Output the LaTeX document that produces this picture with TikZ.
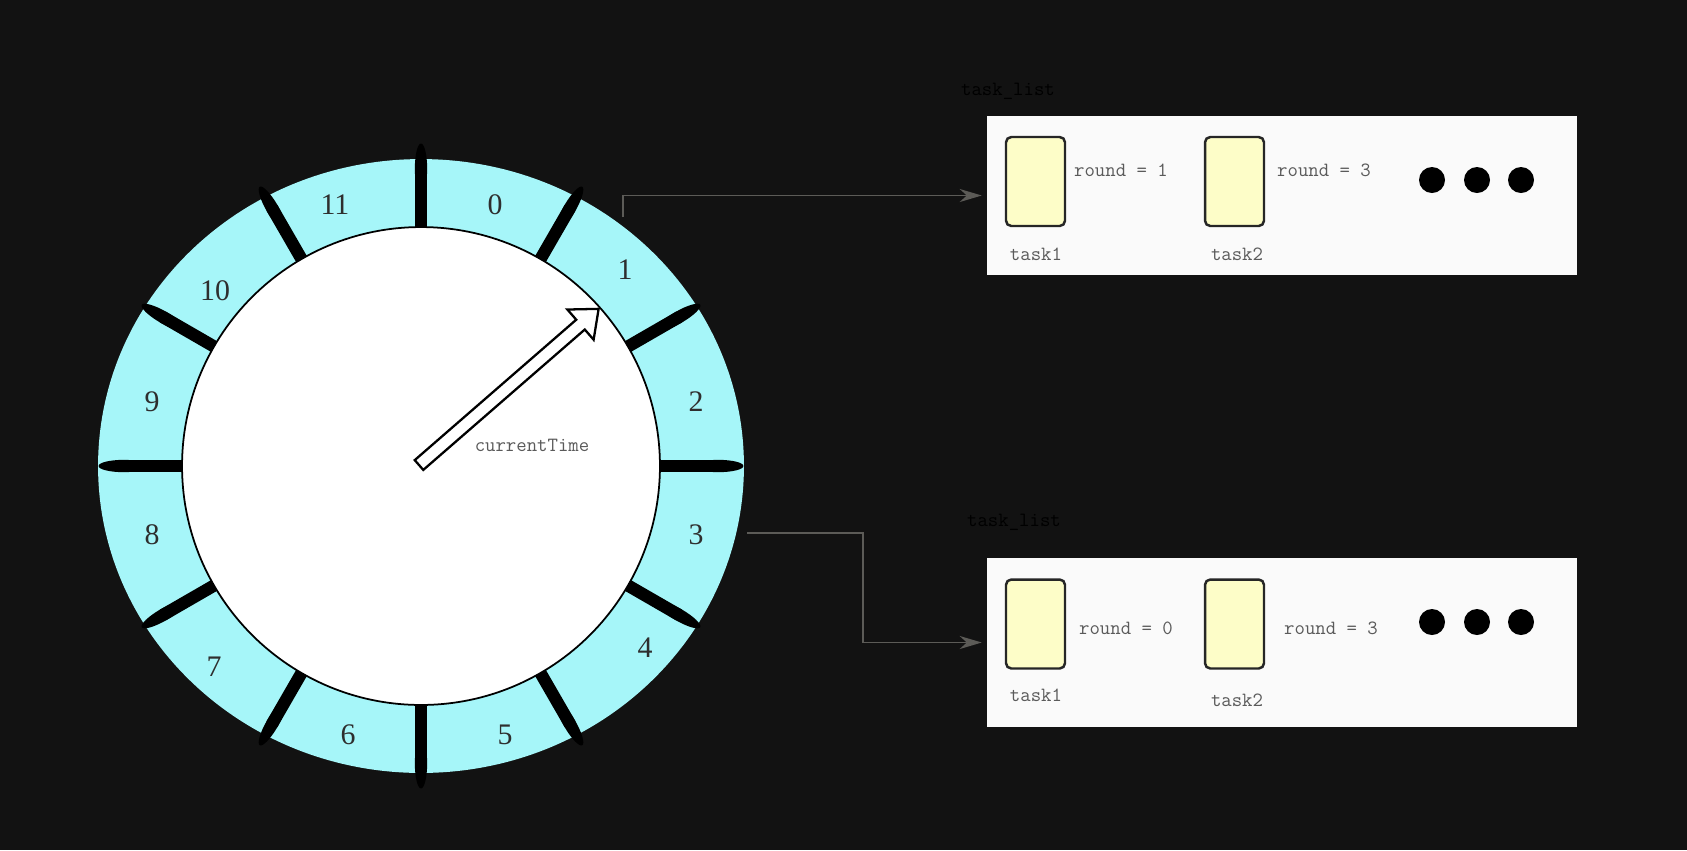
\documentclass[tikz,border=0pt]{standalone}
\usepackage{fontspec}
\usepackage{tikz}
\usetikzlibrary{arrows.meta,positioning}
\newfontfamily\slotfont{Liberation Serif}
\definecolor{bgdark}{HTML}{121212}
\definecolor{slotcyan}{HTML}{A6F6F9}
\definecolor{taskyellow}{HTML}{FDFDC8}
\definecolor{linkgray}{HTML}{5C5B57}
\definecolor{textgray}{HTML}{5A5A5A}
\definecolor{listwhite}{HTML}{FAFAFA}

\begin{document}
\begin{tikzpicture}[
  x=0.02cm,y=-0.02cm,
  slotnum/.style={font=\fontsize{17}{17}\selectfont\slotfont,text=black!82},
  listbox/.style={fill=listwhite,minimum width=11.8cm,inner sep=0pt},
  taskbox/.style={draw=black!85,line width=1.4pt,rounded corners=3pt,fill=taskyellow,
                  minimum width=1.18cm,minimum height=1.78cm,inner sep=0pt},
  lbl/.style={font=\fontsize{11.5}{12}\selectfont\ttfamily,text=textgray,inner sep=1pt},
  listname/.style={font=\fontsize{11.5}{12}\selectfont\ttfamily,text=black},
  dot/.style={circle,fill=black,minimum size=0.52cm,inner sep=0pt},
  tick/.style={draw=black,line width=7pt,line cap=round},
  link/.style={draw=linkgray,line width=1.1pt,-{Stealth[length=0.44cm,width=0.26cm]}}
]
\fill[bgdark] (0,0) rectangle (1687,850);

% timing wheel
\coordinate (ctr) at (421,466);
\fill[slotcyan] (ctr) ellipse [x radius=6.46cm, y radius=6.14cm];
\begin{scope}[shift={(ctr)}]
  \foreach \a in {0,30,...,330} {
    \draw[tick,rotate=\a] (4.7cm,0) -- (5.95cm,0);
    \fill[black,rotate=\a] (5.95cm,0) ellipse [x radius=0.5cm, y radius=0.123cm];
  }
\end{scope}
\draw[fill=white,line width=1pt] (ctr) circle [radius=4.78cm];
\foreach \n/\p in {0/{495,205},1/{625,270},2/{696,402},3/{696,535},
                   4/{645,648},5/{505,735},6/{348,735},7/{214,667},
                   8/{152,535},9/{152,402},10/{215,291},11/{335,205}}
  \node[slotnum] (slot\n) at (\p) {\n};

% current time pointer
\coordinate (hand) at (419,465);
\begin{scope}[shift={(hand)},rotate=41]
  \draw[fill=white,line width=1.3pt,line join=miter]
    (0,-6.5) -- (214,-6.5) -- (214,-20) -- (238,0) -- (214,20) -- (214,6.5) -- (0,6.5) -- cycle;
\end{scope}
\node[lbl] (curtime) at (532,445) {currentTime};

% task lists
\node[listname] (nameA) at (1008,91) {task\_list};
\node[listname] (nameB) at (1014,522) {task\_list};
\node[listbox,minimum height=3.18cm] (listA) at (1282,195.5) {};
\node[listbox,minimum height=3.38cm] (listB) at (1282,642.5) {};

\node[taskbox] (taskA1) at (1035.5,181.5) {};
\node[taskbox] (taskA2) at (1234.5,181.5) {};
\node[lbl] (roundA1) at (1121,170) {round = 1};
\node[lbl] (roundA2) at (1324,170) {round = 3};
\node[lbl] (nameA1) at (1036,254) {task1};
\node[lbl] (nameA2) at (1237,254) {task2};
\node[dot] (dotA1) at (1432,180) {};
\node[dot] (dotA2) at (1477,180) {};
\node[dot] (dotA3) at (1521,180) {};

\node[taskbox] (taskB1) at (1035.5,624) {};
\node[taskbox] (taskB2) at (1234.5,624) {};
\node[lbl] (roundB1) at (1126,628) {round = 0};
\node[lbl] (roundB2) at (1331,628) {round = 3};
\node[lbl] (nameB1) at (1036,695) {task1};
\node[lbl] (nameB2) at (1237,700) {task2};
\node[dot] (dotB1) at (1432,622) {};
\node[dot] (dotB2) at (1477,622) {};
\node[dot] (dotB3) at (1521,622) {};

% slot -> list links
\coordinate (slotA) at (623,217);
\coordinate (slotB) at (747,533);
\draw[link,shorten >=0.1cm] (slotA) |- (listA.west);
\draw[link,shorten >=0.1cm] (slotB) -- ++(116,0) |- (listB.west);
\end{tikzpicture}
\end{document}
